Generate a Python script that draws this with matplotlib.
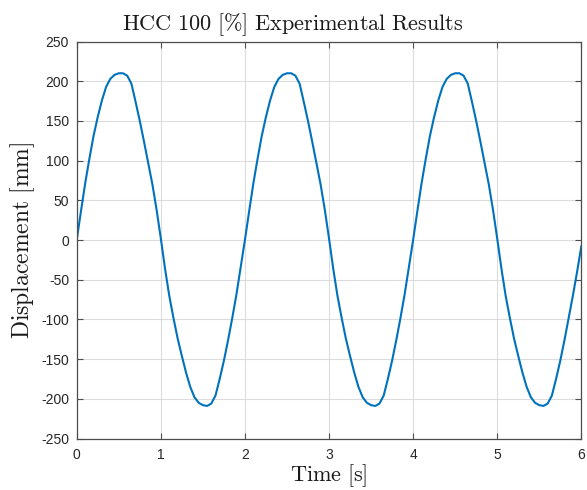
import matplotlib
matplotlib.use("Agg")
import matplotlib.pyplot as plt

# Time samples [s] and displacement [mm]
time_s = [
    0.00, 0.05, 0.10, 0.15, 0.20, 0.25, 0.30, 0.35, 0.40, 0.45,
    0.50, 0.55, 0.60, 0.65, 0.70, 0.75, 0.80, 0.85, 0.90, 0.95,
    1.00, 1.05, 1.10, 1.15, 1.20, 1.25, 1.30, 1.35, 1.40, 1.45,
    1.50, 1.55, 1.60, 1.65, 1.70, 1.75, 1.80, 1.85, 1.90, 1.95,
    2.00, 2.05, 2.10, 2.15, 2.20, 2.25, 2.30, 2.35, 2.40, 2.45,
    2.50, 2.55, 2.60, 2.65, 2.70, 2.75, 2.80, 2.85, 2.90, 2.95,
    3.00, 3.05, 3.10, 3.15, 3.20, 3.25, 3.30, 3.35, 3.40, 3.45,
    3.50, 3.55, 3.60, 3.65, 3.70, 3.75, 3.80, 3.85, 3.90, 3.95,
    4.00, 4.05, 4.10, 4.15, 4.20, 4.25, 4.30, 4.35, 4.40, 4.45,
    4.50, 4.55, 4.60, 4.65, 4.70, 4.75, 4.80, 4.85, 4.90, 4.95,
    5.00, 5.05, 5.10, 5.15, 5.20, 5.25, 5.30, 5.35, 5.40, 5.45,
    5.50, 5.55, 5.60, 5.65, 5.70, 5.75, 5.80, 5.85, 5.90, 5.95,
    6.00,
]
displacement_mm = [
    0, 36, 71, 102, 131, 155, 176, 193, 203, 208,
    210, 210, 207, 197, 174, 150, 124, 97, 70, 38,
    2, -36, -70, -98, -124, -146, -167, -185, -198, -205,
    -208, -209, -206, -196, -175, -152, -126, -98, -68, -34,
    0, 36, 71, 102, 131, 155, 176, 193, 203, 208,
    210, 210, 207, 197, 174, 150, 124, 97, 70, 38,
    2, -36, -70, -98, -124, -146, -167, -185, -198, -205,
    -208, -209, -206, -196, -175, -152, -126, -98, -68, -34,
    0, 36, 71, 102, 131, 155, 176, 193, 203, 208,
    210, 210, 207, 197, 174, 150, 124, 97, 70, 38,
    2, -36, -70, -98, -124, -146, -167, -185, -198, -205,
    -208, -209, -206, -196, -175, -152, -126, -98, -70, -40,
    -8,
]
x_ticks = [0, 1, 2, 3, 4, 5, 6]
y_ticks = [-250, -200, -150, -100, -50, 0, 50, 100, 150, 200, 250]

plt.rcParams['mathtext.fontset'] = 'cm'
plt.rcParams['font.family'] = ['Liberation Sans', 'DejaVu Sans']

fig = plt.figure(figsize=(5.87, 4.90), dpi=100)
ax = fig.add_axes([0.1307, 0.1051, 0.8596, 0.8102])

ax.plot(time_s, displacement_mm, color='#0072BD', lw=1.5, solid_joinstyle='round')

ax.set_xlim(0, 6)
ax.set_ylim(-250, 250)
ax.set_xticks(x_ticks)
ax.set_yticks(y_ticks)
ax.set_xticklabels([str(v) for v in x_ticks])
ax.set_yticklabels([str(v) for v in y_ticks])

axcol = '#4d4d4d'
ax.grid(True, color='#dcdcdc', lw=0.8)
ax.set_axisbelow(True)
for s in ax.spines.values():
    s.set_color(axcol)
    s.set_linewidth(0.9)
ax.tick_params(direction='in', length=4, width=0.8, colors=axcol,
               labelcolor='#262626', labelsize=10, top=True, right=True)
ax.tick_params(axis='x', pad=7)
ax.tick_params(axis='y', pad=5.5)

fig.text(0.498, 0.939, r'$\mathrm{HCC\ 100\ [\%]\ Experimental\ Results}$',
         ha='center', va='baseline', fontsize=16, color='#1a1a1a')
ax.set_xlabel(r'$\mathrm{Time\ [s]}$', fontsize=16, color='#1a1a1a', labelpad=0)
ax.set_ylabel(r'$\mathrm{Displacement\ [mm]}$', fontsize=17, color='#1a1a1a', labelpad=3)

fig.savefig('out.png', dpi=100)
